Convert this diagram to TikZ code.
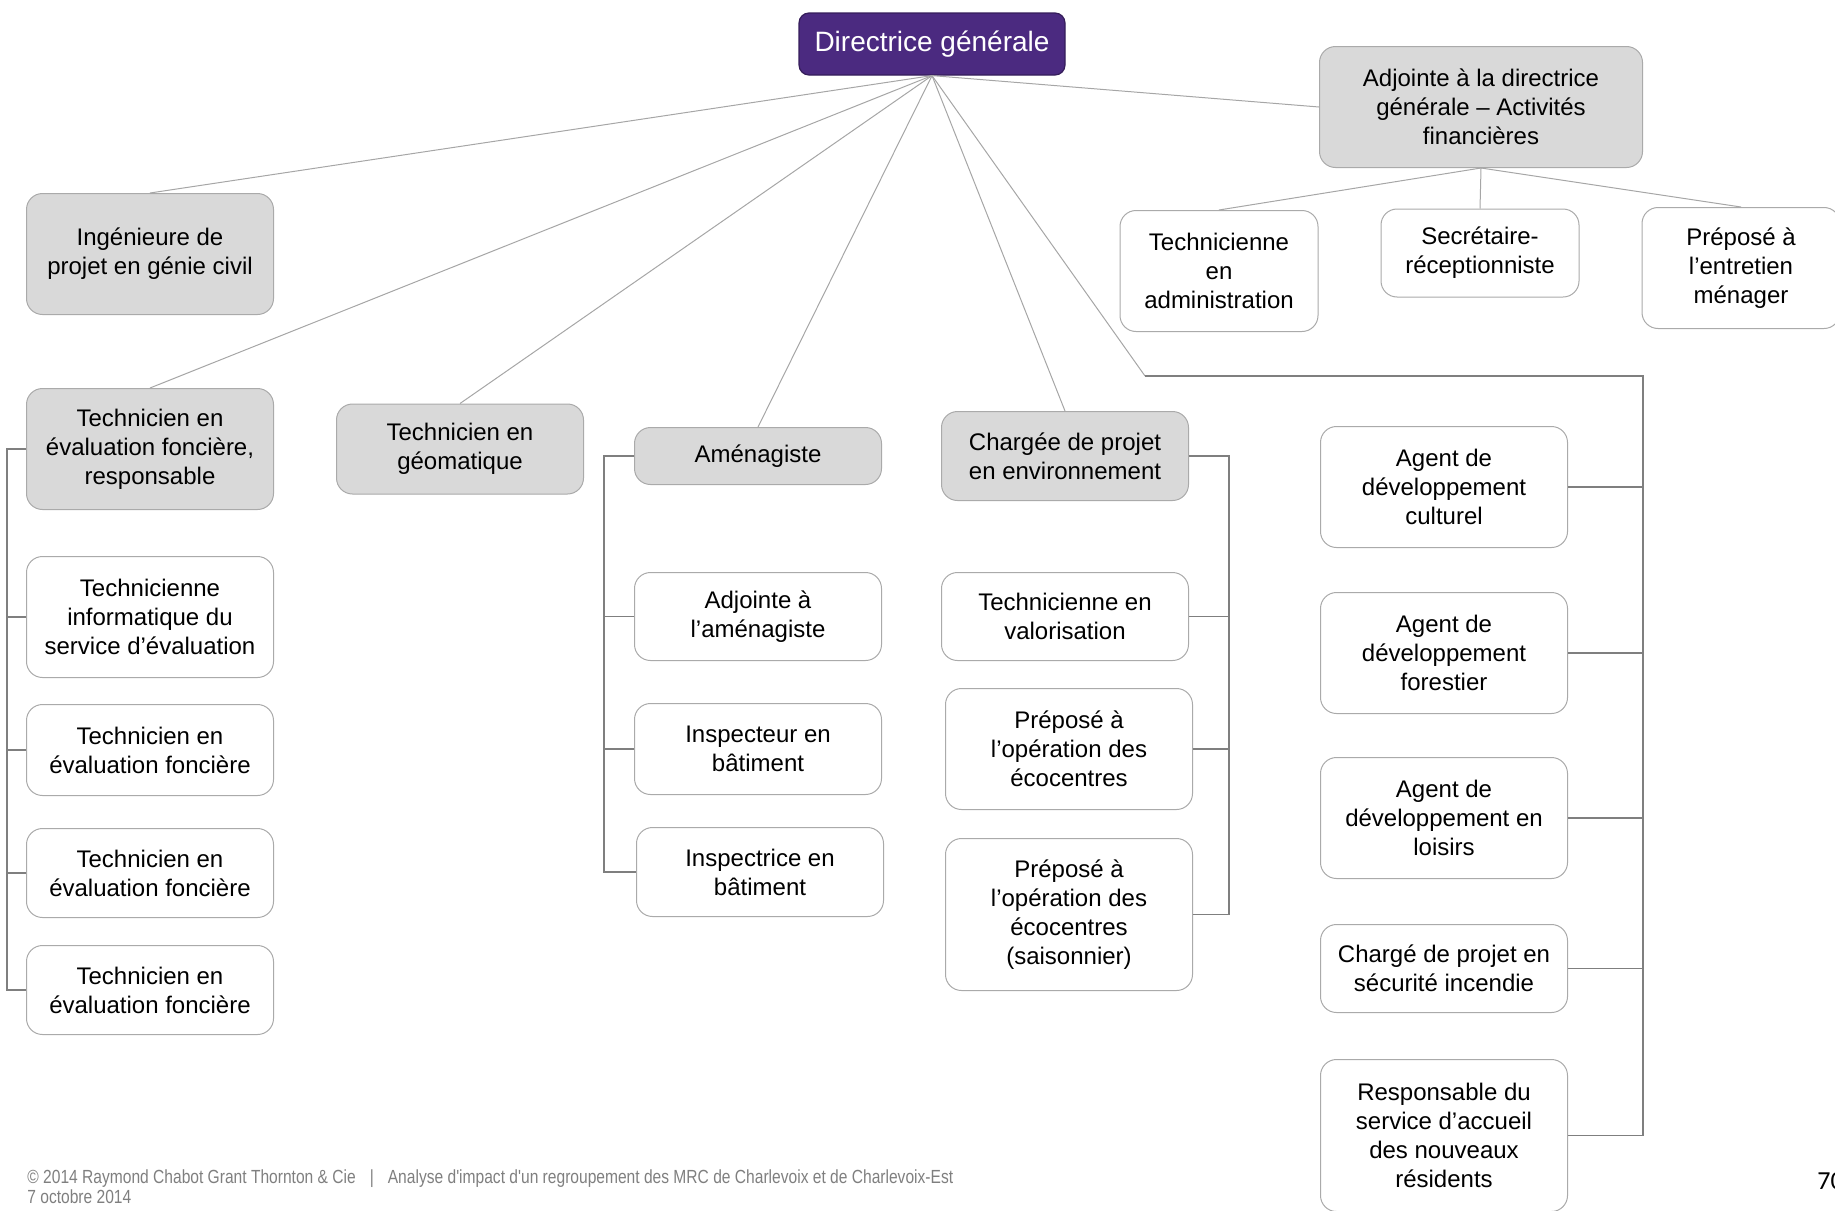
\documentclass[tikz,border=0pt]{standalone}
\usepackage{fontspec}
\setmainfont{Liberation Sans}
\newfontfamily\footfont[FakeStretch=0.82]{Liberation Sans}
\newfontfamily\pagefont{Carlito}
\usepackage{tikz}
\usetikzlibrary{positioning, calc}
\definecolor{chiefpurple}{HTML}{4B2A80}
\definecolor{headgray}{HTML}{D9D9D9}
\definecolor{boxline}{HTML}{AAAAAA}
\definecolor{linkgray}{HTML}{A6A6A6}
\definecolor{branchgray}{HTML}{7F7F7F}
\definecolor{footgray}{HTML}{7F7F7F}
\tikzset{
  % Top box
  chief/.style={
    rectangle, rounded corners=5pt, minimum width=133pt, minimum height=31pt,
    draw=chiefpurple!70!black, fill=chiefpurple, text=white,
    font=\fontsize{14}{17}\selectfont, line width=0.6pt,
  },
  % Post boxes
  post/.style={
    rectangle, rounded corners=8pt, minimum width=123.5pt,
    draw=boxline, fill=#1, text=black, align=center,
    font=\fontsize{12}{14.5}\selectfont, inner sep=2pt, line width=0.5pt,
  },
  post/.default={white},
  headpost/.style={post=headgray},
  onerow/.style={minimum height=28.5pt},
  tworows/.style={minimum height=44.5pt},
  threerows/.style={minimum height=60.5pt},
  fourrows/.style={minimum height=76pt},
  narrowpost/.style={minimum width=99pt},
  % Connectors
  link/.style={draw=linkgray, line width=0.5pt},
  branch/.style={draw=branchgray, line width=0.6pt},
  % Footer
  footnote/.style={font=\footfont\fontsize{9.5}{10}\selectfont, text=footgray, inner sep=0pt},
}
\begin{document}
\begin{tikzpicture}[x=0.5pt, y=-0.5pt]
  \useasboundingbox (0,0) rectangle (1835,1210);

  % Top level
  \node[chief] (dg) at (932,44) {Directrice générale};
  \node[headpost, threerows, minimum width=161.5pt] (adj) at (1481,107)
    {Adjointe à la directrice\\générale – Activités\\financières};
  \node[post, threerows, narrowpost] (tadm) at (1219,271) {Technicienne\\en\\administration};
  \node[post, tworows, narrowpost, minimum height=44pt] (sec) at (1480,253) {Secrétaire-\\réceptionniste};
  \node[post, threerows, narrowpost] (prep) at (1741,268) {Préposé à\\l’entretien\\ménager};
  \node[headpost, threerows] (ing) at (150,254) {Ingénieure de\\projet en génie civil};

  % Section heads
  \node[headpost, threerows] (tefr) at (150,449) {Technicien en\\évaluation foncière,\\responsable};
  \node[headpost, minimum height=45pt] (geom) at (460,449) {Technicien en\\géomatique};
  \node[headpost, onerow] (amen) at (758,456) {Aménagiste};
  \node[headpost, tworows] (env) at (1065,456) {Chargée de projet\\en environnement};

  % Evaluation column
  \node[post, threerows, below=23pt of tefr] (tinf) {Technicienne\\informatique du\\service d’évaluation};
  \node[post, minimum height=45.5pt, below=13pt of tinf] (tef1) {Technicien en\\évaluation foncière};
  \node[post, tworows, below=16pt of tef1] (tef2) {Technicien en\\évaluation foncière};
  \node[post, tworows, below=13.5pt of tef2] (tef3) {Technicien en\\évaluation foncière};

  % Planning column
  \node[post, minimum height=44pt, below=43.5pt of amen] (adjam) {Adjointe à\\l’aménagiste};
  \node[post, minimum height=45.5pt, below=21pt of adjam] (insp1) {Inspecteur en\\bâtiment};
  \node[post, tworows, below=16pt of insp1, xshift=1pt] (insp2) {Inspectrice en\\bâtiment};

  % Environment column
  \node[post, minimum height=44pt, below=35.5pt of env] (tval) {Technicienne en\\valorisation};
  \node[post, threerows, below=13.5pt of tval, xshift=2pt] (eco1) {Préposé à\\l’opération des\\écocentres};
  \node[post, fourrows, below=14pt of eco1] (eco2) {Préposé à\\l’opération des\\écocentres\\(saisonnier)};

  % Development column
  \node[post, threerows] (cult) at (1444,487) {Agent de\\développement\\culturel};
  \node[post, threerows, below=22pt of cult] (forest) {Agent de\\développement\\forestier};
  \node[post, threerows, below=21.5pt of forest] (leisure) {Agent de\\développement en\\loisirs};
  \node[post, minimum height=44pt, below=22.5pt of leisure] (fire) {Chargé de projet en\\sécurité incendie};
  \node[post, fourrows, below=23pt of fire] (welcome) {Responsable du\\service d’accueil\\des nouveaux\\résidents};

  % Bus points
  \coordinate (lbus) at (7,448);
  \coordinate (mbus) at (604,455);
  \coordinate (ebus) at (1229,455);
  \coordinate (rbend) at (1145,376);
  \coordinate (rbus) at (1643,376);

  % Links from the top
  \foreach \n in {ing, tefr, geom, amen, env}
    \draw[link] (dg.south) -- (\n.north);
  \draw[link] (dg.south) -- (adj.west);
  \draw[link] (dg.south) -- (rbend);
  \foreach \n in {tadm, sec, prep}
    \draw[link] (adj.south) -- (\n.north);

  % Brackets
  \draw[branch] (tefr.west) -- (tefr.west -| lbus) -- (tef3.west -| lbus) -- (tef3.west);
  \foreach \n in {tinf, tef1, tef2}
    \draw[branch] (\n.west) -- (\n.west -| lbus);
  \draw[branch] (amen.west) -- (amen.west -| mbus) -- (insp2.west -| mbus) -- (insp2.west);
  \foreach \n in {adjam, insp1}
    \draw[branch] (\n.west) -- (\n.west -| mbus);
  \draw[branch] (env.east) -- (env.east -| ebus) -- (eco2.east -| ebus) -- (eco2.east);
  \foreach \n in {tval, eco1}
    \draw[branch] (\n.east) -- (\n.east -| ebus);
  \draw[branch] (rbend) -- (rbus) -- (rbus |- welcome.east) -- (welcome.east);
  \foreach \n in {cult, forest, leisure, fire}
    \draw[branch] (\n.east) -- (\n.east -| rbus);

  % Footer
  \node[footnote, anchor=base west] (foot1) at (27,1183)
    {© 2014 Raymond Chabot Grant Thornton \& Cie\hspace{7pt}|\hspace{7pt}Analyse d'impact d'un regroupement des MRC de Charlevoix et de Charlevoix-Est};
  \node[footnote, anchor=base west] (foot2) at (27,1203) {7 octobre 2014};
  \node[font=\pagefont\fontsize{13}{15}\selectfont, anchor=base west, inner sep=0pt] (pagenum) at (1817,1189) {70};
\end{tikzpicture}
\end{document}
